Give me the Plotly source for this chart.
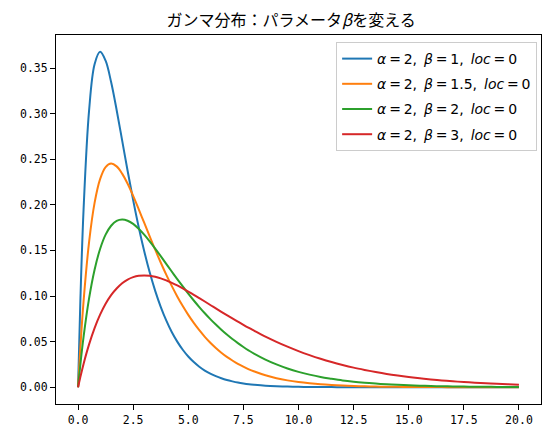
import plotly.graph_objects as go

# =========================
# DADES (llegides del gràfic)
# =========================
x = [0, 0.1, 0.25, 0.5, 0.75, 1, 1.25, 1.5, 1.75, 2, 2.25, 2.5, 2.75, 3,
     3.25, 3.5, 3.75, 4, 4.25, 4.5, 4.75, 5, 5.25, 5.5, 5.75, 6, 6.25, 6.5,
     6.75, 7, 7.25, 7.5, 7.75, 8, 8.5, 9, 9.5, 10, 10.5, 11, 11.5, 12, 12.5,
     13, 13.5, 14, 14.5, 15, 15.5, 16, 16.5, 17, 17.5, 18, 18.5, 19, 19.5, 20]

# beta = 1
y_b1 = [0, 0.0905, 0.1947, 0.3033, 0.3543, 0.3679, 0.3581, 0.3347, 0.3041,
        0.2707, 0.2371, 0.2052, 0.1758, 0.1494, 0.1260, 0.1057, 0.0882,
        0.0733, 0.0606, 0.0500, 0.0411, 0.0337, 0.0276, 0.0225, 0.0183,
        0.0149, 0.0121, 0.0098, 0.0079, 0.0064, 0.0051, 0.0041, 0.0033,
        0.0027, 0.0017, 0.0011, 0.0007, 0.00045, 0.00029, 0.00018, 0.00012,
        0.00007, 0.00005, 0.00003, 0.00002, 0.00001, 0, 0, 0, 0, 0, 0, 0,
        0, 0, 0, 0, 0]

# beta = 1.5
y_b15 = [0, 0.0416, 0.0941, 0.1592, 0.2022, 0.2282, 0.2414, 0.2453, 0.2422,
         0.2343, 0.2231, 0.2099, 0.1954, 0.1804, 0.1655, 0.1508, 0.1368,
         0.1235, 0.1111, 0.0996, 0.0890, 0.0793, 0.0705, 0.0625, 0.0553,
         0.0488, 0.0431, 0.0379, 0.0333, 0.0293, 0.0256, 0.0225, 0.0196,
         0.0172, 0.0131, 0.0099, 0.0075, 0.0057, 0.0043, 0.0032, 0.0024,
         0.0018, 0.0013, 0.0010, 0.0007, 0.00055, 0.00041, 0.0003, 0.00022,
         0.00017, 0.00012, 0.00009, 0.00007, 0.00005, 0.00004, 0.00003,
         0.00002, 0.00001]

# beta = 2
y_b2 = [0, 0.0238, 0.0552, 0.0974, 0.1289, 0.1516, 0.1673, 0.1771, 0.1824,
        0.1839, 0.1826, 0.1791, 0.1738, 0.1673, 0.1600, 0.1521, 0.1438,
        0.1353, 0.1269, 0.1186, 0.1105, 0.1026, 0.0951, 0.0879, 0.0811,
        0.0747, 0.0687, 0.0630, 0.0577, 0.0528, 0.0483, 0.0441, 0.0402,
        0.0366, 0.0303, 0.0250, 0.0205, 0.0168, 0.0138, 0.0112, 0.0092,
        0.0074, 0.0060, 0.0049, 0.0040, 0.0032, 0.0026, 0.0021, 0.0017,
        0.0013, 0.0011, 0.0009, 0.0007, 0.00055, 0.00044, 0.00036, 0.00028,
        0.00023]

# beta = 3
y_b3 = [0, 0.0107, 0.0256, 0.0470, 0.0649, 0.0796, 0.0916, 0.1011, 0.1083,
        0.1141, 0.1181, 0.1207, 0.1222, 0.1226, 0.1222, 0.1211, 0.1194,
        0.1172, 0.1145, 0.1116, 0.1083, 0.1049, 0.1014, 0.0977, 0.0940,
        0.0902, 0.0865, 0.0827, 0.0790, 0.0754, 0.0719, 0.0684, 0.0650,
        0.0618, 0.0555, 0.0498, 0.0445, 0.0396, 0.0352, 0.0312, 0.0276,
        0.0244, 0.0215, 0.0190, 0.0167, 0.0146, 0.0128, 0.0112, 0.0098,
        0.0086, 0.0075, 0.0065, 0.0057, 0.0050, 0.0043, 0.0037, 0.0033,
        0.0028]

betes = ["1", "1.5", "2", "3"]
noms = [f"<i>α</i>\u2009=\u20092,\u2002<i>β</i>\u2009=\u2009{b},\u2002<i>loc</i>\u2009=\u20090"
        for b in betes]
colors = ["#1f77b4", "#ff7f0e", "#2ca02c", "#d62728"]

# =========================
# GRÀFIC
# =========================
fig = go.Figure()
for i, (ys, nom, c) in enumerate(zip([y_b1, y_b15, y_b2, y_b3], noms, colors)):
    fig.add_trace(go.Scatter(
        x=x, y=ys, mode="lines", name=nom, legendgroup=f"g{i}",
        line=dict(color=c, width=2, shape="spline", smoothing=1)
    ))

eix = dict(
    showline=True, linecolor="black", linewidth=1, mirror=True,
    ticks="outside", ticklen=5, tickcolor="black",
    showgrid=False, zeroline=False,
    tickfont=dict(family="DejaVu Sans Mono", size=11.5, color="black"),
)

# la pàgina desplaça la figura ~8px, per això els marges estan compensats
fig.update_layout(
    width=553, height=437,
    margin=dict(l=41, r=20, t=27, b=41),
    paper_bgcolor="white", plot_bgcolor="white",
    title=dict(text="ガンマ分布：パラメータ<i>β</i>を変える", x=0.512, xanchor="center",
               y=0.9725, yanchor="middle",
               font=dict(family="Noto Sans CJK JP", size=16, color="black")),
    xaxis=dict(eix, range=[-1, 21], dtick=2.5, tick0=0, tickformat=".1f"),
    yaxis=dict(eix, range=[-0.0184, 0.3863], dtick=0.05, tick0=0, tickformat=".2f"),
    legend=dict(x=0.992, y=0.981, xanchor="right", yanchor="top",
                traceorder="grouped", tracegroupgap=4,
                bgcolor="rgba(255,255,255,0.8)", bordercolor="#cccccc", borderwidth=1,
                font=dict(family="DejaVu Sans", size=14, color="black")),
    showlegend=True,
)

fig.write_html("out.html")
